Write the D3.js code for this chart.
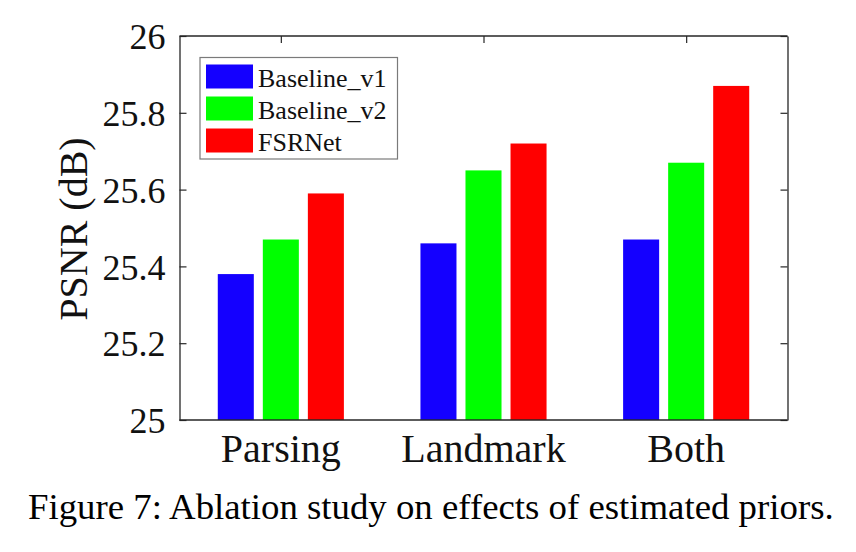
<!DOCTYPE html>
<html>
<head>
<meta charset="utf-8">
<script src="https://cdn.jsdelivr.net/npm/d3@7/dist/d3.min.js"></script>
<style>
  html, body { margin: 0; padding: 0; background: #fff; }
  svg { display: block; font-family: "Liberation Serif", "Times New Roman", serif; }
</style>
</head>
<body>
<svg id="chart" width="856" height="552"></svg>
<script>
const categories = ["Parsing", "Landmark", "Both"];
const seriesNames = ["Baseline_v1", "Baseline_v2", "FSRNet"];
const baselineV1 = [25.38, 25.46, 25.47];
const baselineV2 = [25.47, 25.65, 25.67];
const fsrnet = [25.59, 25.72, 25.87];
const yTicks = [25, 25.2, 25.4, 25.6, 25.8, 26];
const colors = ["#1400ff", "#00ff00", "#ff0000"];
const yLabel = "PSNR (dB)";
const caption = "Figure 7: Ablation study on effects of estimated priors.";

const seriesValues = [baselineV1, baselineV2, fsrnet];
const rows = categories.map((c, i) => ({
  category: c,
  values: seriesNames.map((s, j) => ({ series: s, value: seriesValues[j][i], color: colors[j] }))
}));

const svg = d3.select("#chart");
const mLeft = 179.5, mRight = 787.5, mTop = 36, mBottom = 420;

const x0 = d3.scaleBand().domain(categories).range([mLeft, mRight])
  .paddingInner(1/3).paddingOuter(1/6);
const x1 = d3.scaleBand().domain(seriesNames).range([0, x0.bandwidth()])
  .paddingInner(0.2).paddingOuter(0.1);
const y = d3.scaleLinear().domain([25, 26]).range([mBottom, mTop]);

const axisColor = "#262626";
const tickLen = 7;

// bars
const g = svg.append("g");
g.selectAll("g.grp").data(rows).join("g")
  .attr("class", "grp")
  .attr("transform", d => `translate(${x0(d.category)},0)`)
  .selectAll("rect").data(d => d.values).join("rect")
  .attr("x", d => x1(d.series))
  .attr("width", x1.bandwidth())
  .attr("y", d => y(d.value))
  .attr("height", d => y(25) - y(d.value))
  .attr("fill", d => d.color);

const center = c => x0(c) + x0.bandwidth() / 2;

const yAxisL = d3.axisLeft(y).tickValues(yTicks).tickSizeInner(-tickLen).tickSizeOuter(0)
  .tickFormat(d => String(+d.toFixed(1)));
const gl = svg.append("g").attr("transform", `translate(${mLeft},0)`).call(yAxisL);
gl.select(".domain").attr("stroke", axisColor).attr("stroke-width", 1.3);
gl.selectAll(".tick line").attr("stroke", axisColor).attr("stroke-width", 1.2);
gl.selectAll(".tick text").attr("x", -14).attr("dy", "0.35em")
  .attr("font-size", 36).attr("fill", "#111").attr("font-family", "Liberation Serif, serif");

const yAxisR = d3.axisRight(y).tickValues(yTicks).tickSizeInner(-tickLen).tickSizeOuter(0).tickFormat("");
const gr = svg.append("g").attr("transform", `translate(${mRight},0)`).call(yAxisR);
gr.select(".domain").attr("stroke", axisColor).attr("stroke-width", 1.3);
gr.selectAll(".tick line").attr("stroke", axisColor).attr("stroke-width", 1.2);

const xAxisT = d3.axisTop(d3.scalePoint().domain(categories).range([center(categories[0]), center(categories[2])]))
  .tickSizeInner(-tickLen).tickSizeOuter(0).tickFormat("");
const gt = svg.append("g").attr("transform", `translate(0,${mTop})`).call(xAxisT);
gt.select(".domain").remove();
gt.selectAll(".tick line").attr("stroke", axisColor).attr("stroke-width", 1.2);
svg.append("line").attr("x1", mLeft).attr("x2", mRight).attr("y1", mTop).attr("y2", mTop)
  .attr("stroke", axisColor).attr("stroke-width", 1.3);

svg.append("line").attr("x1", mLeft).attr("x2", mRight).attr("y1", mBottom).attr("y2", mBottom)
  .attr("stroke", axisColor).attr("stroke-width", 1.3);

// category labels
svg.selectAll("text.cat").data(categories).join("text")
  .attr("class", "cat")
  .attr("x", d => center(d))
  .attr("y", 461.5)
  .attr("text-anchor", "middle")
  .attr("font-size", 40)
  .attr("fill", "#111")
  .text(d => d);

// y label
svg.append("text")
  .attr("transform", `translate(87,229) rotate(-90)`)
  .attr("text-anchor", "middle")
  .attr("font-size", 40)
  .attr("fill", "#111")
  .text(yLabel);

// legend
const leg = svg.append("g");
leg.append("rect").attr("x", 200).attr("y", 57.5).attr("width", 197.5).attr("height", 101.5)
  .attr("fill", "#fff").attr("stroke", "#7a7a7a").attr("stroke-width", 1.2);
const items = leg.selectAll("g.item").data(seriesNames).join("g")
  .attr("class", "item")
  .attr("transform", (d, i) => `translate(0,${64.5 + i * 32})`);
items.append("rect").attr("x", 206).attr("y", 0).attr("width", 47).attr("height", 24)
  .attr("fill", (d, i) => colors[i]);
items.append("text").attr("x", 258).attr("y", 22).attr("font-size", 26)
  .attr("fill", "#111").text(d => d);

// caption
svg.append("text")
  .attr("x", 28).attr("y", 519)
  .attr("font-size", 36.8)
  .attr("fill", "#000")
  .text(caption);
</script>
</body>
</html>
